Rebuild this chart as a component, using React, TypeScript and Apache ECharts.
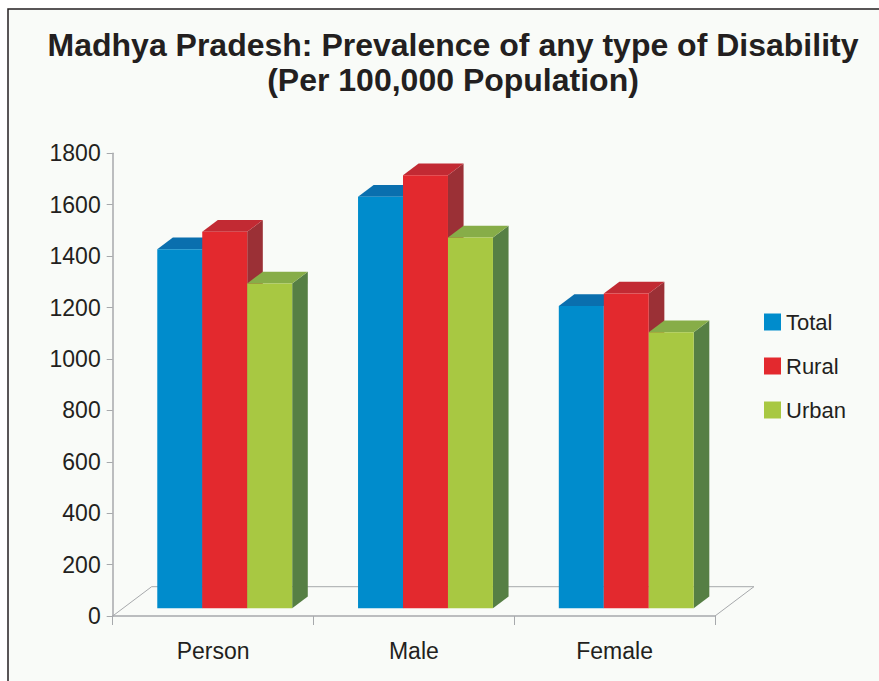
import React, { useEffect, useRef } from "react";
import * as echarts from "echarts";

const categories = ["Person", "Male", "Female"];
const seriesNames = ["Total", "Rural", "Urban"];
const totalValues = [1397, 1601, 1176];
const ruralValues = [1465, 1685, 1225];
const urbanValues = [1264, 1443, 1074];
const yMin = 0;
const yMax = 1800;
const yInterval = 200;

const FACE_COLORS = [
  { front: "#008ccc", top: "#0a6fae", side: "#085f96" },
  { front: "#e3292e", top: "#c22a33", side: "#9b3036" },
  { front: "#a8c842", top: "#87ad48", side: "#567f44" },
];

const FONT = "'Liberation Sans', Arial, sans-serif";
const TEXT_COLOR = "#231f20";
const AXIS_COLOR = "#a7a9ac";

function makeBarRender(s: number) {
  return (params: any, api: any) => {
    const cat = api.value(0);
    const val = api.value(1);
    const base = api.coord([cat, 0]);
    const top = api.coord([cat, val]);
    const band = api.size([1, 0])[0];
    const barW = band * 0.224;
    const fx = band * 0.058;
    const fy = -band * 0.0383;
    const dx = band * 0.0777;
    const dy = -band * 0.0583;
    const x0 = base[0] - 1.5 * barW + fx + s * barW;
    const yb = base[1] + fy;
    const yt = top[1] + fy;
    const c = FACE_COLORS[s];
    return {
      type: "group",
      children: [
        {
          type: "polygon",
          shape: {
            points: [
              [x0 + barW, yt],
              [x0 + barW + dx, yt + dy],
              [x0 + barW + dx, yb + dy],
              [x0 + barW, yb],
            ],
          },
          style: { fill: c.side },
        },
        {
          type: "polygon",
          shape: {
            points: [
              [x0, yt],
              [x0 + dx, yt + dy],
              [x0 + barW + dx, yt + dy],
              [x0 + barW, yt],
            ],
          },
          style: { fill: c.top },
        },
        {
          type: "rect",
          shape: { x: x0, y: yt, width: barW, height: yb - yt },
          style: { fill: c.front },
        },
      ],
    };
  };
}

const floorRender = (params: any, api: any) => {
  const cs = params.coordSys;
  const x = cs.x;
  const y = cs.y + cs.height;
  const w = cs.width;
  const band = api.size([1, 0])[0];
  const ddx = band * 0.194;
  const ddy = -band * 0.146;
  return {
    type: "polyline",
    shape: {
      points: [
        [x, y],
        [x + ddx, y + ddy],
        [x + w + ddx, y + ddy],
        [x + w, y],
      ],
    },
    style: { stroke: AXIS_COLOR, lineWidth: 1, fill: "none" },
  };
};

export default function App() {
  const ref = useRef<HTMLDivElement>(null);
  useEffect(() => {
    if (!ref.current) return;
    const chart = echarts.init(ref.current, undefined, { renderer: "svg" });
    const valueSets = [totalValues, ruralValues, urbanValues];
    const barSeries = seriesNames.map((name, s) => ({
      type: "custom",
      name,
      renderItem: makeBarRender(s),
      itemStyle: { color: FACE_COLORS[s].front },
      encode: { x: 0, y: 1 },
      data: categories.map((_, i) => [i, valueSets[s][i]]),
      z: 3,
    }));
    chart.setOption({
      animation: false,
      backgroundColor: "#ffffff",
      graphic: [
        {
          type: "rect",
          shape: { x: 8, y: 9, width: 900, height: 700 },
          style: { fill: "#f9fbf8", stroke: "#231f20", lineWidth: 1.5 },
          z: -10,
          silent: true,
        },
      ],
      title: {
        text: "Madhya Pradesh: Prevalence of any type of Disability\n(Per 100,000 Population)",
        left: 448,
        textAlign: "center",
        top: 22,
        textStyle: {
          fontFamily: FONT,
          fontWeight: "bold",
          fontSize: 32,
          lineHeight: 35,
          color: TEXT_COLOR,
        },
      },
      legend: {
        data: seriesNames,
        orient: "vertical",
        left: 759,
        top: 306,
        itemWidth: 17,
        itemHeight: 17,
        itemGap: 22,
        icon: "rect",
        textStyle: {
          fontFamily: FONT,
          fontSize: 22,
          lineHeight: 22,
          color: TEXT_COLOR,
        },
      },
      grid: { left: 112.7, right: 164, top: 153.3, bottom: 65 },
      xAxis: {
        type: "category",
        data: categories,
        axisLine: { lineStyle: { color: AXIS_COLOR, width: 1.5 } },
        axisTick: { show: true, length: 9, lineStyle: { color: AXIS_COLOR } },
        axisLabel: { fontFamily: FONT, fontSize: 23, color: TEXT_COLOR, margin: 23 },
      },
      yAxis: {
        type: "value",
        min: yMin,
        max: yMax,
        interval: yInterval,
        axisLine: { show: true, lineStyle: { color: AXIS_COLOR, width: 1.5 } },
        axisTick: { show: true, length: 6, lineStyle: { color: AXIS_COLOR } },
        splitLine: { show: false },
        axisLabel: {
          fontFamily: FONT,
          fontSize: 23,
          color: TEXT_COLOR,
          margin: 12,
          formatter: (v: number) => String(v),
        },
      },
      series: [
        {
          type: "custom",
          name: "floor",
          renderItem: floorRender,
          encode: { x: 0, y: 1 },
          data: [[0, 0]],
          z: 1,
          silent: true,
        },
        ...barSeries,
      ],
    });
    return () => chart.dispose();
  }, []);
  return (
    <div style={{ position: "fixed", left: 0, top: 0, width: 879, height: 681 }}>
      <div ref={ref} style={{ width: 879, height: 681 }} />
    </div>
  );
}
